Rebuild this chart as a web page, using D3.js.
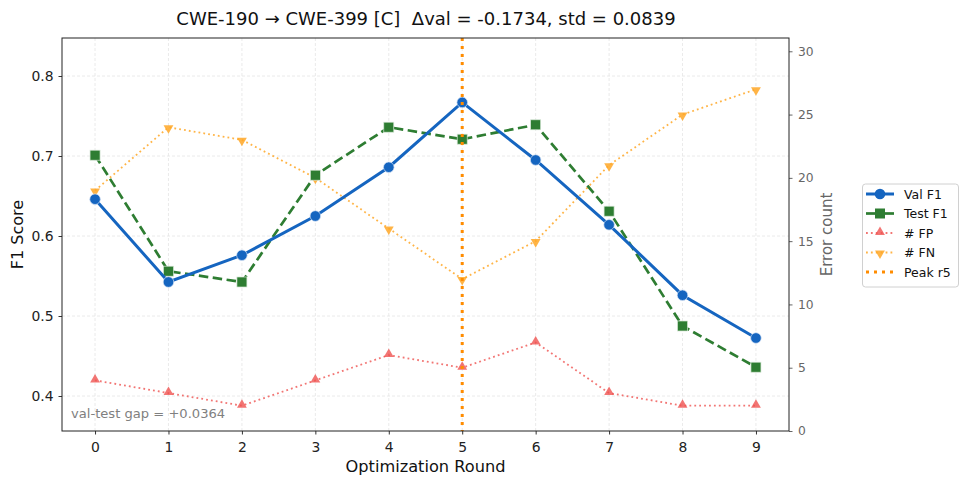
<!DOCTYPE html>
<html>
<head>
<meta charset="utf-8">
<script src="https://cdn.jsdelivr.net/npm/d3@7"></script>
<style>
  body { margin: 0; background: #fff; }
  text { font-family: "DejaVu Sans", sans-serif; }
</style>
</head>
<body>
<div id="canvas"></div>
<script>
"use strict"

/* data */
let rounds = [0, 1, 2, 3, 4, 5, 6, 7, 8, 9];
let valF1 = [0.646, 0.5425, 0.576, 0.625, 0.686, 0.767, 0.695, 0.614, 0.526, 0.4725];
let testF1 = [0.701, 0.556, 0.5425, 0.676, 0.736, 0.721, 0.739, 0.631, 0.4875, 0.436];
let fpCount = [4, 3, 2, 4, 6, 5, 7, 3, 2, 2];
let fnCount = [19, 24, 23, 20, 16, 12, 15, 21, 25, 27];
let leftTicks = [0.4, 0.5, 0.6, 0.7, 0.8];
let rightTicks = [0, 5, 10, 15, 20, 25, 30];
let peakRound = 5;
let legendNames = ["Val F1", "Test F1", "# FP", "# FN", "Peak r5"];

let W = 969, H = 485;
let plotL = 62, plotR = 789, plotT = 38, plotB = 431;

let drawing = d3.select("#canvas")
  .append("svg")
  .attr("width", W)
  .attr("height", H);

let x = d3.scaleLinear().domain([-0.45, 9.45]).range([plotL, plotR]);
let y = d3.scaleLinear().domain([0.35625, 0.8475]).range([plotB, plotT]);
let y2 = d3.scaleLinear().domain([0, 31.05]).range([plotB, plotT]);

/* grid */
let grid = drawing.append("g");
grid.selectAll(".gx").data(rounds).enter().append("line")
  .attr("x1", d => x(d)).attr("x2", d => x(d))
  .attr("y1", plotT).attr("y2", plotB)
  .attr("stroke", "#e4e4e4").attr("stroke-width", 0.8).attr("stroke-dasharray", "3,2");
grid.selectAll(".gy").data(leftTicks).enter().append("line")
  .attr("x1", plotL).attr("x2", plotR)
  .attr("y1", d => y(d)).attr("y2", d => y(d))
  .attr("stroke", "#e4e4e4").attr("stroke-width", 0.8).attr("stroke-dasharray", "3,2");

/* axes */
let xAxis = drawing.append("g")
  .attr("transform", "translate(0," + plotB + ")")
  .call(d3.axisBottom(x).tickValues(rounds).tickFormat(d3.format("d")).tickSize(3.5).tickPadding(7.5));
let yAxis = drawing.append("g")
  .attr("transform", "translate(" + plotL + ",0)")
  .call(d3.axisLeft(y).tickValues(leftTicks).tickFormat(d3.format(".1f")).tickSize(3.5).tickPadding(5));
let y2Axis = drawing.append("g")
  .attr("transform", "translate(" + plotR + ",0)")
  .call(d3.axisRight(y2).tickValues(rightTicks).tickFormat(d3.format("d")).tickSize(3.5).tickPadding(5.5));

[xAxis, yAxis].forEach(a => {
  a.select(".domain").remove();
  a.selectAll("text").attr("font-size", 13.9).attr("fill", "#222").attr("font-family", "DejaVu Sans");
  a.selectAll("line").attr("stroke", "#333");
});
y2Axis.select(".domain").remove();
y2Axis.selectAll("text").attr("font-size", 12.3).attr("fill", "#666").attr("font-family", "DejaVu Sans");
y2Axis.selectAll("line").attr("stroke", "#666");

/* lines */
function drawSeries(vals, scale, color, width, dash, opacity) {
  let line = d3.line().x((d, i) => x(rounds[i])).y(d => scale(d));
  return drawing.append("path")
    .datum(vals)
    .attr("d", line)
    .attr("fill", "none")
    .attr("stroke", color)
    .attr("stroke-width", width)
    .attr("stroke-dasharray", dash)
    .attr("opacity", opacity);
}

let tri = d3.symbol().type(d3.symbolTriangle).size(42);

/* FP */
drawSeries(fpCount, y2, "#ef5350", 1.8, "1.8,3.1", 0.8);
drawing.append("g").selectAll("path").data(fpCount).enter().append("path")
  .attr("d", tri)
  .attr("transform", (d, i) => "translate(" + x(rounds[i]) + "," + (y2(d) - 0.8) + ")")
  .attr("fill", "#ef5350").attr("opacity", 0.8);

/* FN */
drawSeries(fnCount, y2, "#ffa726", 1.8, "1.8,3.1", 0.85);
drawing.append("g").selectAll("path").data(fnCount).enter().append("path")
  .attr("d", tri)
  .attr("transform", (d, i) => "translate(" + x(rounds[i]) + "," + (y2(d) + 0.8) + ") rotate(180)")
  .attr("fill", "#ffa726").attr("opacity", 0.85);

/* Test F1 */
drawSeries(testF1, y, "#2e7d32", 2.7, "9.5,4.5", 1);
drawing.append("g").selectAll("rect").data(testF1).enter().append("rect")
  .attr("x", (d, i) => x(rounds[i]) - 5).attr("y", d => y(d) - 5)
  .attr("width", 10).attr("height", 10)
  .attr("fill", "#2e7d32").attr("stroke", "#d5e6d5").attr("stroke-width", 0.7);

/* Val F1 */
drawSeries(valF1, y, "#1565c0", 3, null, 1);
drawing.append("g").selectAll("circle").data(valF1).enter().append("circle")
  .attr("cx", (d, i) => x(rounds[i])).attr("cy", d => y(d))
  .attr("r", 5.3)
  .attr("fill", "#1565c0").attr("stroke", "#d5e3f5").attr("stroke-width", 0.7);

/* peak line */
drawing.append("line")
  .attr("x1", x(peakRound)).attr("x2", x(peakRound))
  .attr("y1", plotT).attr("y2", plotB)
  .attr("stroke", "#ff8c00").attr("stroke-width", 3)
  .attr("stroke-dasharray", "3,5");

/* frame */
drawing.append("rect")
  .attr("x", plotL).attr("y", plotT)
  .attr("width", plotR - plotL).attr("height", plotB - plotT)
  .attr("fill", "none").attr("stroke", "#222").attr("stroke-width", 1);

/* annotation */
drawing.append("text")
  .attr("x", 71).attr("y", 418)
  .attr("font-size", 13.1).attr("fill", "#808080")
  .text("val-test gap = +0.0364");

/* titles */
drawing.append("text")
  .attr("x", 426).attr("y", 25)
  .attr("text-anchor", "middle").attr("font-size", 18).attr("fill", "#111")
  .style("white-space", "pre")
  .text("CWE-190 → CWE-399 [C]  Δval = -0.1734, std = 0.0839");
drawing.append("text")
  .attr("x", (plotL + plotR) / 2).attr("y", 472)
  .attr("text-anchor", "middle").attr("font-size", 16.2).attr("fill", "#111")
  .text("Optimization Round");
drawing.append("text")
  .attr("transform", "translate(23," + ((plotT + plotB) / 2) + ") rotate(-90)")
  .attr("text-anchor", "middle").attr("font-size", 16).attr("fill", "#111")
  .text("F1 Score");
drawing.append("text")
  .attr("transform", "translate(832," + ((plotT + plotB) / 2) + ") rotate(-90)")
  .attr("text-anchor", "middle").attr("font-size", 15).attr("fill", "#666")
  .text("Error count");

/* legend */
let legend = drawing.append("g");
legend.append("rect")
  .attr("x", 862.5).attr("y", 184).attr("width", 96).attr("height", 103)
  .attr("rx", 3).attr("fill", "#fff").attr("stroke", "#d0d0d0");
let legendStyle = [
  { color: "#1565c0", width: 3, dash: null, marker: "circle", op: 1 },
  { color: "#2e7d32", width: 2.7, dash: null, marker: "square", op: 1 },
  { color: "#ef5350", width: 1.8, dash: "1.8,3.1", marker: "up", op: 0.8 },
  { color: "#ffa726", width: 1.8, dash: "1.8,3.1", marker: "down", op: 0.85 },
  { color: "#ff8c00", width: 3, dash: "3,5", marker: null, op: 1 }
];
legendNames.forEach((name, i) => {
  let ly = 194 + i * 19.5;
  let s = legendStyle[i];
  legend.append("line")
    .attr("x1", 866).attr("x2", 894).attr("y1", ly).attr("y2", ly)
    .attr("stroke", s.color).attr("stroke-width", s.width)
    .attr("stroke-dasharray", s.dash).attr("opacity", s.op);
  if (s.marker === "circle") {
    legend.append("circle").attr("cx", 880).attr("cy", ly).attr("r", 5.3).attr("fill", s.color);
  } else if (s.marker === "square") {
    legend.append("rect").attr("x", 875).attr("y", ly - 5).attr("width", 10).attr("height", 10).attr("fill", s.color);
  } else if (s.marker === "up") {
    legend.append("path").attr("d", tri).attr("transform", "translate(880," + (ly - 0.8) + ")").attr("fill", s.color).attr("opacity", s.op);
  } else if (s.marker === "down") {
    legend.append("path").attr("d", tri).attr("transform", "translate(880," + (ly + 0.8) + ") rotate(180)").attr("fill", s.color).attr("opacity", s.op);
  }
  legend.append("text")
    .attr("x", 904).attr("y", ly + 4.5)
    .attr("font-size", 12.5).attr("fill", "#111")
    .text(name);
});
</script>
</body>
</html>
